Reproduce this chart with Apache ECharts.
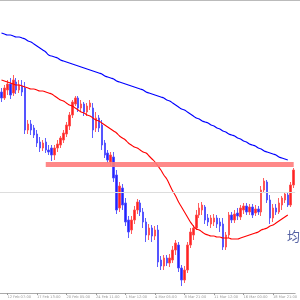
<!DOCTYPE html>
<html>
<head>
<meta charset="utf-8">
<script src="https://cdn.jsdelivr.net/npm/echarts@6/dist/echarts.min.js"></script>
<style>
  html, body { margin: 0; padding: 0; background: #fff; }
  #chart { width: 300px; height: 300px; }
</style>
</head>
<body>
<div id="chart"></div>
<script>
// candles: [open, close, low, high]
const candles = [
  [201, 195, 191, 205], [195, 205, 193, 208], [203, 209, 198, 213], [209, 198, 194, 215],
  [200, 213, 197, 218], [211, 203, 199, 215], [203, 208, 200, 213], [207, 201, 197, 213],
  [205, 163, 159, 211], [163, 169, 159, 173], [169, 163, 158, 173], [165, 158, 155, 168],
  [159, 150, 146, 163], [151, 145, 141, 156], [145, 150, 142, 153], [151, 143, 140, 155],
  [143, 141, 138, 148], [145, 138, 132, 148], [138, 145, 133, 148], [145, 149, 141, 153],
  [148, 155, 145, 157], [153, 160, 150, 163], [159, 168, 156, 171], [167, 178, 163, 181],
  [178, 191, 175, 193], [189, 195, 187, 197], [195, 185, 181, 197], [185, 189, 181, 193],
  [189, 181, 177, 191], [181, 187, 177, 190], [186, 190, 183, 193], [185, 163, 155, 190],
  [165, 175, 161, 181], [175, 165, 161, 178], [168, 148, 143, 173], [150, 138, 135, 153],
  [140, 133, 130, 143], [131, 138, 127, 141], [136, 115, 111, 141], [118, 83, 79, 123],
  [85, 107, 81, 111], [105, 88, 83, 109], [90, 71, 67, 95], [73, 61, 55, 77],
  [63, 73, 59, 77], [73, 83, 69, 87], [83, 91, 79, 94], [90, 81, 77, 93],
  [81, 71, 65, 85], [71, 58, 51, 75], [58, 65, 53, 69], [65, 57, 51, 68],
  [57, 63, 53, 67], [63, 31, 26, 68], [33, 27, 23, 37], [27, 35, 23, 38],
  [35, 30, 27, 38], [30, 35, 26, 39], [33, 43, 30, 47], [43, 50, 38, 53],
  [48, 25, 21, 51], [25, 13, 7, 28], [13, 23, 10, 27], [23, 48, 20, 51],
  [48, 61, 45, 65], [58, 65, 53, 68], [65, 78, 63, 83], [78, 85, 75, 90],
  [83, 88, 78, 91], [86, 73, 69, 88], [75, 71, 67, 79], [69, 75, 65, 78],
  [71, 75, 67, 79], [75, 69, 65, 78], [71, 67, 61, 75], [69, 46, 43, 75],
  [46, 58, 43, 61], [58, 78, 55, 81], [78, 73, 70, 81], [73, 79, 70, 83],
  [80, 77, 73, 85], [76, 85, 73, 88], [83, 87, 79, 90], [87, 81, 78, 90],
  [81, 86, 78, 89], [86, 78, 75, 89], [80, 84, 77, 88], [84, 81, 78, 87],
  [81, 103, 77, 107], [103, 112, 100, 115], [111, 93, 90, 113], [93, 75, 69, 98],
  [75, 85, 71, 89], [85, 81, 78, 89], [81, 90, 79, 95], [88, 95, 83, 97],
  [93, 99, 90, 101], [98, 88, 86, 100], [88, 108, 86, 111], [108, 123, 105, 125]
];

const maFast = [
  213, 212, 211, 210, 209, 208, 208, 207, 206, 205, 204, 204, 203, 202, 202, 201,
  200, 199, 197, 195, 193, 192, 190, 188, 187, 185, 183, 181, 180, 178, 177, 175,
  173, 172, 170, 168, 166, 164, 162, 160, 157, 155, 153, 150, 148, 146, 145, 143,
  141, 140, 137, 134, 131, 127, 123, 118, 114, 108, 102, 97, 91, 86, 81, 76,
  71, 67, 64, 63, 61, 59, 58, 57, 57, 56, 56, 55, 55, 55, 54, 54,
  54, 55, 56, 57, 58, 59, 60, 61, 63, 64, 65, 67, 68, 70, 72, 74,
  76, 78, null, null
];

const maSlow = [
  260, 259, 258, 258, 257, 256, 256, 255, 254, 252, 251, 249, 247, 245, 243, 241,
  238, 237, 236, 235, 233, 232, 231, 230, 229, 228, 227, 226, 225, 224, 223, 222,
  221, 220, 219, 217, 216, 215, 214, 212, 211, 210, 209, 208, 207, 206, 205, 204,
  203, 201, 200, 199, 198, 197, 196, 195, 193, 192, 190, 188, 186, 184, 183, 181,
  179, 177, 175, 174, 172, 171, 170, 168, 167, 165, 164, 162, 161, 159, 158, 157,
  155, 154, 152, 151, 149, 148, 147, 145, 144, 142, 141, 140, 139, 138, 136, 135,
  134, 133, null, null
];

const tickIndex = [2, 12, 22, 32, 42, 52, 62, 72, 82, 92];
const tickText = ['12 Feb 07:00', '17 Feb 13:00', '20 Feb 05:00', '24 Feb 11:00', '1 Mar 12:00',
  '4 Mar 05:00', '8 Mar 21:00', '11 Mar 12:00', '16 Mar 00:00', '18 Mar 21:00'];

const levelStart = 15;
const levelPrice = 128.5;
const bidPrice = 101;

const categories = candles.map((c, i) => String(i));

const chart = echarts.init(document.getElementById('chart'));
chart.setOption({
  animation: false,
  backgroundColor: '#fff',
  grid: { left: 0, right: 0, top: 1, bottom: 7 },
  xAxis: {
    type: 'category',
    data: categories,
    boundaryGap: true,
    axisLine: { lineStyle: { color: '#aaa', width: 1 } },
    axisTick: {
      show: true,
      alignWithLabel: true,
      length: 2,
      interval: (i) => tickIndex.indexOf(i) >= 0,
      lineStyle: { color: '#999' }
    },
    axisLabel: {
      interval: (i) => tickIndex.indexOf(i) >= 0,
      formatter: (v, i) => tickText[tickIndex.indexOf(Number(v))] || '',
      fontSize: 3.6,
      color: '#999',
      align: 'left',
      margin: 2,
      hideOverlap: false,
      showMinLabel: true,
      showMaxLabel: true,
      fontFamily: 'DejaVu Sans'
    },
    splitLine: { show: false }
  },
  yAxis: {
    type: 'value',
    min: 0,
    max: 292,
    show: false,
    splitLine: { show: false }
  },
  series: [
    {
      type: 'candlestick',
      data: candles,
      barWidth: 2,
      itemStyle: {
        color: '#ff1010',
        color0: '#1010ff',
        borderColor: '#ff5050',
        borderColor0: '#5050ff',
        borderWidth: 1,
        opacity: 0.92
      },
      markLine: {
        silent: true,
        symbol: 'none',
        label: { show: false },
        data: [
          [{ coord: [levelStart, levelPrice], lineStyle: { color: '#ff7b7b', width: 5, type: 'solid', opacity: 0.9 } },
           { coord: [candles.length - 1, levelPrice] }],
          { yAxis: bidPrice, lineStyle: { color: '#dddddd', width: 1, type: 'solid' } }
        ]
      }
    },
    {
      type: 'line',
      data: maFast,
      showSymbol: false,
      smooth: true,
      lineStyle: { color: '#ff0000', width: 1.1 },
      z: 3
    },
    {
      type: 'line',
      data: maSlow,
      showSymbol: false,
      smooth: true,
      lineStyle: { color: '#0000ff', width: 1.1 },
      z: 3
    }
  ],
  graphic: [
    { type: 'line', shape: { x1: 0, y1: 0.5, x2: 300, y2: 0.5 }, style: { stroke: '#bbb', lineWidth: 1 } },
    { type: 'text', left: 287, top: 230, style: { text: '均线', fontSize: 13, fill: '#5562a3', fontFamily: 'Noto Sans CJK SC' } }
  ]
});
</script>
</body>
</html>
